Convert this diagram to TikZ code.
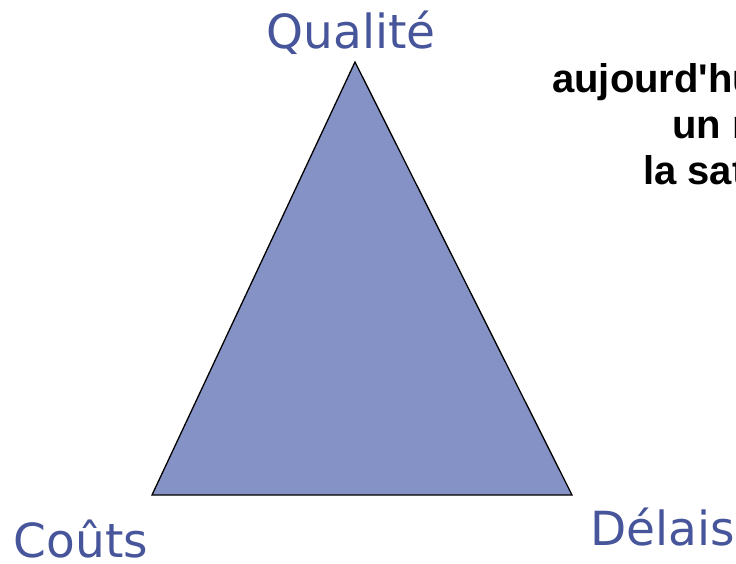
\documentclass[tikz,border=0pt]{standalone}
\usepackage{fontspec}
\newfontfamily\vertexfont{DejaVu Sans}
\newfontfamily\notefont{Liberation Sans}
\definecolor{trifill}{HTML}{8592C5}
\definecolor{labelblue}{HTML}{47559B}
\begin{document}
\begin{tikzpicture}[x=1pt,y=-1pt,
  vertexlabel/.style={inner sep=0pt,anchor=base,text=labelblue,
    font=\vertexfont\fontsize{47}{47}\selectfont},
  noteline/.style={inner sep=0pt,anchor=base west,
    font=\notefont\bfseries\fontsize{40}{46}\selectfont}]
  % page frame; the note on the right runs past the edge
  \clip (0,0) rectangle (736,564);
  \fill[white] (0,0) rectangle (736,564);

  % the triangle
  \coordinate (top) at (355,62);
  \coordinate (left) at (152,495);
  \coordinate (right) at (572,495);
  \filldraw[fill=trifill,draw=black,line width=1.3pt,line join=miter]
    (top) -- (left) -- (right) -- cycle;

  % corner labels
  \node[vertexlabel] (qualite) at (351,49) {Qualité};
  \node[vertexlabel] (couts) at (81,557) {Coûts};
  \node[vertexlabel] (delais) at (663,545) {Délais};

  % note
  \node[noteline] (l1) at (552,93) {aujourd'hu};
  \node[noteline] (l2) at (672,139) {un r};
  \node[noteline] (l3) at (643,185) {la sat};
\end{tikzpicture}
\end{document}
